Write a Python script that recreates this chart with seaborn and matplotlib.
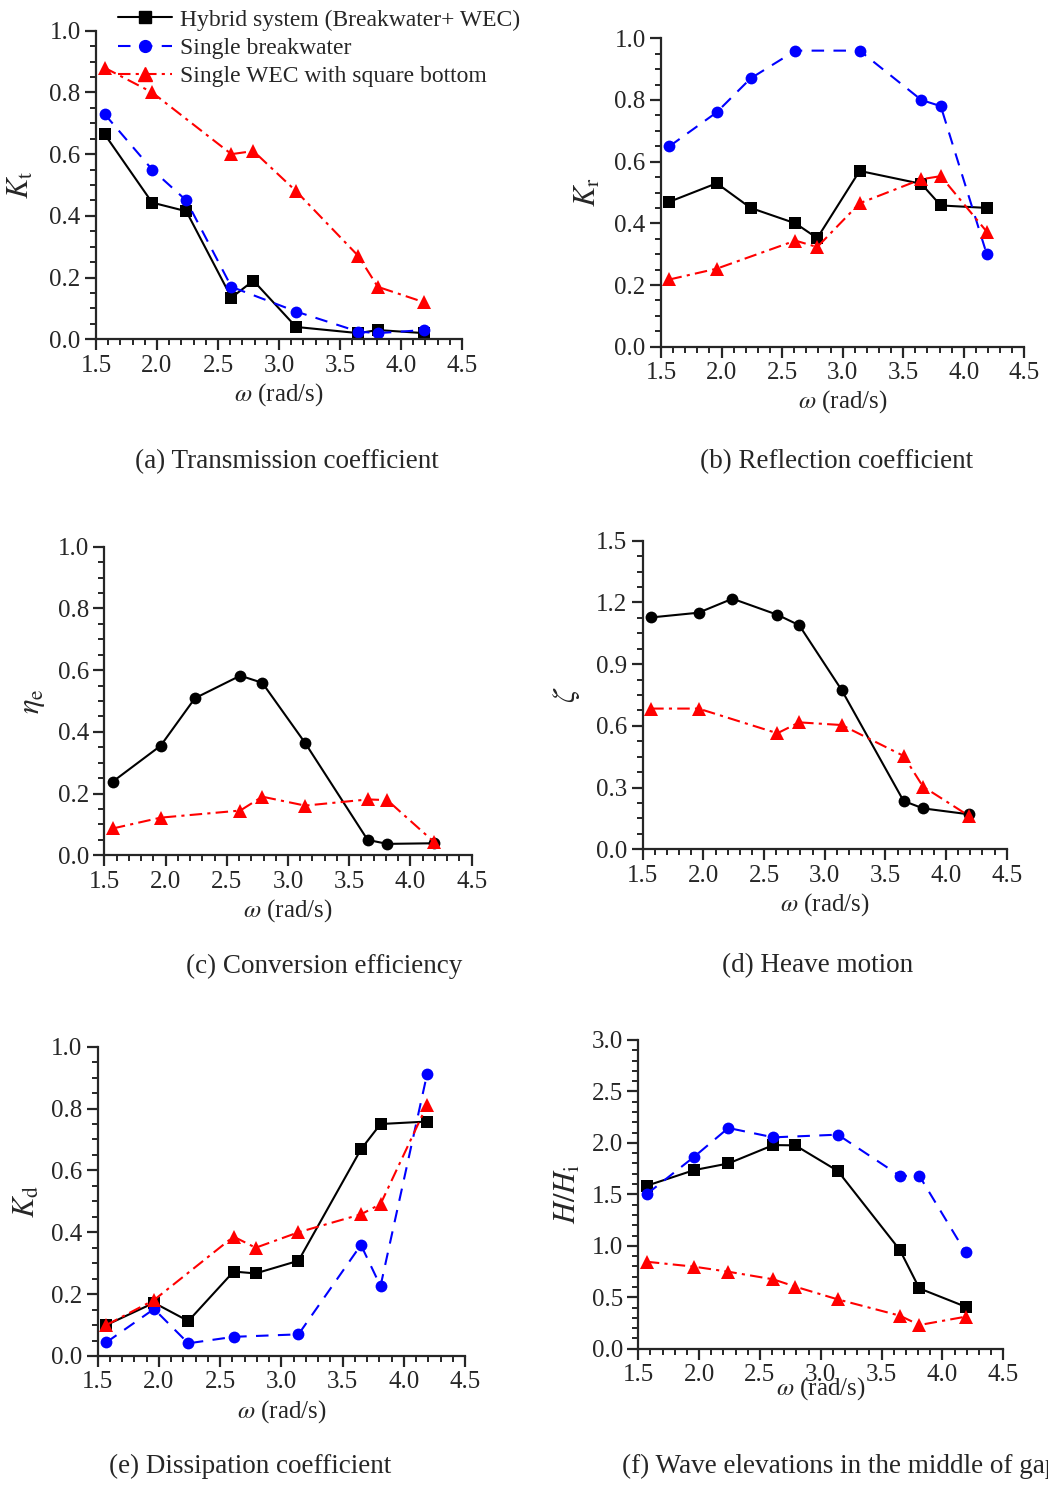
import numpy as np
import pandas as pd
import seaborn as sns
import matplotlib.pyplot as plt
from matplotlib.lines import Line2D
from matplotlib.ticker import MultipleLocator

# Wave frequencies (rad/s)
omega = [1.57, 1.96, 2.24, 2.61, 2.79, 3.14, 3.65, 3.81, 4.19]
omega_bw = [1.57, 1.96, 2.24, 2.61, 3.14, 3.65, 3.81, 4.19]    # single breakwater runs
omega_wec = [1.57, 1.96, 2.61, 2.79, 3.14, 3.65, 3.81, 4.19]   # single WEC runs

# (a) Transmission coefficient
kt_hybrid = [0.665, 0.443, 0.415, 0.135, 0.19, 0.04, 0.02, 0.03, 0.02]
kt_bw = [0.73, 0.55, 0.45, 0.17, 0.09, 0.025, 0.02, 0.03]
kt_wec = [0.88, 0.80, 0.60, 0.61, 0.48, 0.27, 0.17, 0.12]

# (b) Reflection coefficient
kr_hybrid = [0.47, 0.53, 0.45, 0.40, 0.352, 0.57, 0.528, 0.458, 0.45]
kr_bw = [0.65, 0.76, 0.87, 0.96, 0.96, 0.80, 0.78, 0.30]
kr_wec = [0.218, 0.253, 0.344, 0.323, 0.465, 0.543, 0.553, 0.373]

# (c) Conversion efficiency
eta_hybrid = [0.239, 0.355, 0.509, 0.582, 0.559, 0.364, 0.05, 0.037, 0.039]
eta_wec = [0.087, 0.122, 0.145, 0.19, 0.161, 0.181, 0.179, 0.044]

# (d) Heave motion
zeta_hybrid = [1.127, 1.150, 1.218, 1.140, 1.089, 0.774, 0.235, 0.199, 0.170]
zeta_wec = [0.684, 0.684, 0.564, 0.617, 0.604, 0.454, 0.305, 0.162]

# (e) Dissipation coefficient
kd_hybrid = [0.10, 0.172, 0.113, 0.273, 0.267, 0.308, 0.668, 0.75, 0.758]
kd_bw = [0.044, 0.152, 0.041, 0.062, 0.07, 0.359, 0.226, 0.911]
kd_wec = [0.10, 0.181, 0.386, 0.35, 0.40, 0.458, 0.491, 0.811]

# (f) Wave elevations in the middle of gap
hh_hybrid = [1.584, 1.736, 1.80, 1.979, 1.976, 1.727, 0.959, 0.586, 0.408]
hh_bw = [1.503, 1.866, 2.145, 2.054, 2.08, 1.68, 1.68, 0.936]
hh_wec = [0.845, 0.797, 0.748, 0.674, 0.603, 0.479, 0.321, 0.23, 0.311]

legend_labels = ['Hybrid system (Breakwater+ WEC)', 'Single breakwater',
                 'Single WEC with square bottom']

sns.set_style('ticks')
plt.rcParams['font.family'] = ['Liberation Serif', 'DejaVu Serif']
plt.rcParams['mathtext.fontset'] = 'stix'
plt.rcParams['font.size'] = 17

W, H = 1048, 1485
fig = plt.figure(figsize=(W / 100, H / 100), dpi=100)

STYLE = {
    'hybrid': dict(color='black', linestyle='-', marker='s', markersize=8),
    'hybrid_o': dict(color='black', linestyle='-', marker='o', markersize=8.5),
    'bw': dict(color='#0000FF', linestyle=(0, (6, 4.5)), marker='o', markersize=8.5),
    'wec': dict(color='#FF0000', linestyle=(0, (6, 2.5, 1.5, 2.5)), marker='^', markersize=9.5),
}


def add_axes(px_left, px_top, px_right, px_bottom):
    return fig.add_axes([px_left / W, 1 - px_bottom / H,
                         (px_right - px_left) / W, (px_bottom - px_top) / H])


def draw(ax, x, y, key):
    st = STYLE[key]
    df = pd.DataFrame({'omega': x, 'val': y})
    sns.lineplot(data=df, x='omega', y='val', ax=ax, color=st['color'],
                 linestyle=st['linestyle'], marker=st['marker'],
                 markersize=st['markersize'], mec=st['color'], mew=0,
                 linewidth=1.5)


def style_axes(ax, ymax, ymajor, yminor, ylabel, ylab_x):
    ax.set_xlim(1.5, 4.5)
    ax.set_ylim(0, ymax)
    ax.xaxis.set_major_locator(MultipleLocator(0.5))
    ax.xaxis.set_minor_locator(MultipleLocator(0.1))
    ax.yaxis.set_major_locator(MultipleLocator(ymajor))
    ax.yaxis.set_minor_locator(MultipleLocator(yminor))
    ax.xaxis.set_major_formatter(lambda v, p: f'{v:.1f}')
    ax.yaxis.set_major_formatter(lambda v, p: f'{v:.1f}')
    sns.despine(ax=ax)
    for s in ['left', 'bottom']:
        ax.spines[s].set_linewidth(1.6)
    ax.tick_params(which='major', length=8, width=1.6, direction='out', labelsize=18, pad=3)
    ax.tick_params(which='minor', length=4, width=1.4, direction='out')
    ax.set_xlabel(r'$\omega$ (rad/s)', fontsize=18)
    ax.xaxis.set_label_coords(0.5, -0.135)
    ax.set_ylabel(ylabel, fontsize=22)
    ax.yaxis.set_label_coords(ylab_x, 0.5)


# (a)
ax = add_axes(96, 30.7, 462, 339.3)
draw(ax, omega, kt_hybrid, 'hybrid')
draw(ax, omega_bw, kt_bw, 'bw')
draw(ax, omega_wec, kt_wec, 'wec')
style_axes(ax, 1.0, 0.2, 0.05, r'$K_{\rm t}$', -0.165)

handles = [Line2D([], [], color=STYLE[k]['color'], linestyle=STYLE[k]['linestyle'],
                  marker=STYLE[k]['marker'], markersize=STYLE[k]['markersize'],
                  linewidth=1.5) for k in ['hybrid', 'bw', 'wec']]
fig.legend(handles, legend_labels, loc='upper left', bbox_to_anchor=(104 / W, 1 + 5 / H),
           frameon=False, fontsize=17, handlelength=2.3, handletextpad=0.3,
           labelspacing=0.28, borderpad=0.1)

# (b)
ax = add_axes(661, 38.3, 1024.3, 346.7)
draw(ax, omega, kr_hybrid, 'hybrid')
draw(ax, omega_bw, kr_bw, 'bw')
draw(ax, omega_wec, kr_wec, 'wec')
style_axes(ax, 1.0, 0.2, 0.05, r'$K_{\rm r}$', -0.16)

# (c)
ax = add_axes(104.3, 546.7, 471.7, 855.3)
draw(ax, omega, eta_hybrid, 'hybrid_o')
draw(ax, omega_wec, eta_wec, 'wec')
style_axes(ax, 1.0, 0.2, 0.05, r'$\eta_{\rm e}$', -0.156)

# (d)
ax = add_axes(642.7, 540.7, 1006.7, 849.3)
draw(ax, omega, zeta_hybrid, 'hybrid_o')
draw(ax, omega_wec, zeta_wec, 'wec')
style_axes(ax, 1.5, 0.3, 0.075, r'$\zeta$', -0.167)

# (e)
ax = add_axes(97.7, 1046.7, 465, 1356)
draw(ax, omega, kd_hybrid, 'hybrid')
draw(ax, omega_bw, kd_bw, 'bw')
draw(ax, omega_wec, kd_wec, 'wec')
style_axes(ax, 1.0, 0.2, 0.05, r'$K_{\rm d}$', -0.152)

# (f) - the x label sits on the tick labels, as in the source figure
ax = add_axes(638.3, 1040, 1003.3, 1348.7)
draw(ax, omega, hh_hybrid, 'hybrid')
draw(ax, omega_bw, hh_bw, 'bw')
draw(ax, omega, hh_wec, 'wec')
style_axes(ax, 3.0, 0.5, 0.1, r'$H/H_{\rm i}$', -0.151)
ax.xaxis.set_label_coords(0.5, -0.085)

# panel captions ((f) runs off the right edge in the source figure)
cap = dict(va='center', fontsize=19.5)
fig.text(287 / W, 1 - 462 / H, '(a) Transmission coefficient', ha='center', **cap)
fig.text(837 / W, 1 - 462 / H, '(b) Reflection coefficient', ha='center', **cap)
fig.text(324 / W, 1 - 966 / H, '(c) Conversion efficiency', ha='center', **cap)
fig.text(818 / W, 1 - 966 / H, '(d) Heave motion', ha='center', **cap)
fig.text(250 / W, 1 - 1466 / H, '(e) Dissipation coefficient', ha='center', **cap)
fig.text(622 / W, 1 - 1466 / H, '(f) Wave elevations in the middle of gap', ha='left', **cap)

fig.savefig('out.png', dpi=100)
